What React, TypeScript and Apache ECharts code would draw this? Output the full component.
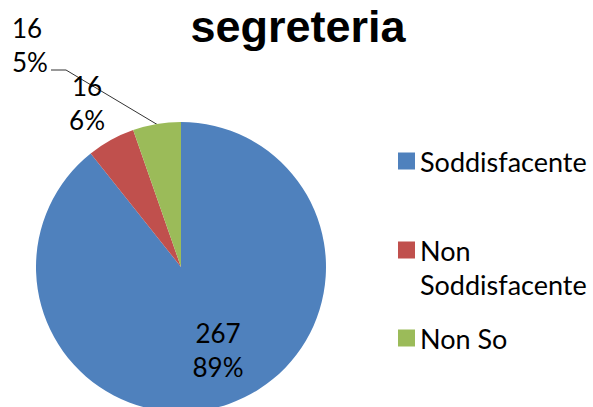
import React, { useEffect, useRef } from "react";
import * as echarts from "echarts";

const titleText = "segreteria";
const categories = ["Soddisfacente", "Non Soddisfacente", "Non So"];
const counts = [267, 16, 16];
const percentLabels = ["89%", "6%", "5%"];
const colors = ["#4F81BD", "#C0504D", "#9BBB59"];

const FONT = "Lato";

export default function App() {
  const ref = useRef<HTMLDivElement>(null);
  useEffect(() => {
    if (!ref.current) return;
    const chart = echarts.init(ref.current, undefined, { renderer: "svg" });
    const labelPos = [
      { x: 218, y: 350, align: "center" },
      { x: 87, y: 103, align: "center" },
      { x: 12, y: 45, align: "left" },
    ];
    const legendText = {
      fontFamily: FONT,
      fontSize: 27,
      lineHeight: 34,
      color: "#000",
    };
    const option: any = {
      animation: false,
      backgroundColor: "#fff",
      title: {
        text: titleText,
        left: 298,
        textAlign: "center",
        top: 0,
        padding: 0,
        textStyle: {
          fontFamily: "Liberation Sans",
          fontWeight: "bold",
          fontSize: 45,
          lineHeight: 52,
          color: "#000",
        },
      },
      legend: [
        {
          data: [categories[0]],
          orient: "vertical",
          left: 398,
          top: 144,
          padding: 0,
          itemWidth: 17,
          itemHeight: 17,
          icon: "rect",
          selectedMode: false,
          textStyle: legendText,
        },
        {
          data: [categories[1]],
          orient: "vertical",
          left: 398,
          top: 233,
          padding: 0,
          itemWidth: 17,
          itemHeight: 51,
          icon: "path://M0,0h17v17h-17z M0,51h0.01v0.01h-0.01z",
          selectedMode: false,
          formatter: (n: string) => n.replace(" ", "\n"),
          textStyle: legendText,
        },
        {
          data: [categories[2]],
          orient: "vertical",
          left: 398,
          top: 321,
          padding: 0,
          itemWidth: 17,
          itemHeight: 17,
          icon: "rect",
          selectedMode: false,
          textStyle: legendText,
        },
      ],
      series: [
        {
          type: "pie",
          center: [181, 267],
          radius: 145,
          startAngle: 90,
          clockwise: true,
          avoidLabelOverlap: false,
          label: {
            show: true,
            position: "outside",
            fontFamily: FONT,
            fontSize: 26,
            lineHeight: 34,
            color: "#000",
            formatter: (p: any) => `${counts[p.dataIndex]}\n${percentLabels[p.dataIndex]}`,
          },
          labelLine: { show: false, lineStyle: { color: "#333", width: 1 } },
          labelLayout: (p: any) => {
            const lp = labelPos[p.dataIndex];
            const res: any = { x: lp.x, y: lp.y, align: lp.align, verticalAlign: "middle", hideOverlap: false };
            if (p.dataIndex === 2) {
              res.labelLinePoints = [
                [158, 125],
                [66, 70],
                [51, 70],
              ];
            }
            return res;
          },
          itemStyle: { borderWidth: 0 },
          emphasis: { disabled: true },
          data: categories.map((name, i) => ({
            name,
            value: counts[i],
            itemStyle: { color: colors[i] },
            labelLine: i === 2 ? { show: true, showAbove: true, lineStyle: { color: "#333", width: 1 } } : { show: false },
          })),
        },
      ],
    };
    chart.setOption(option);
    return () => chart.dispose();
  }, []);
  return (
    <div
      ref={ref}
      style={{ position: "fixed", left: 0, top: 0, width: 593, height: 407 }}
    />
  );
}
